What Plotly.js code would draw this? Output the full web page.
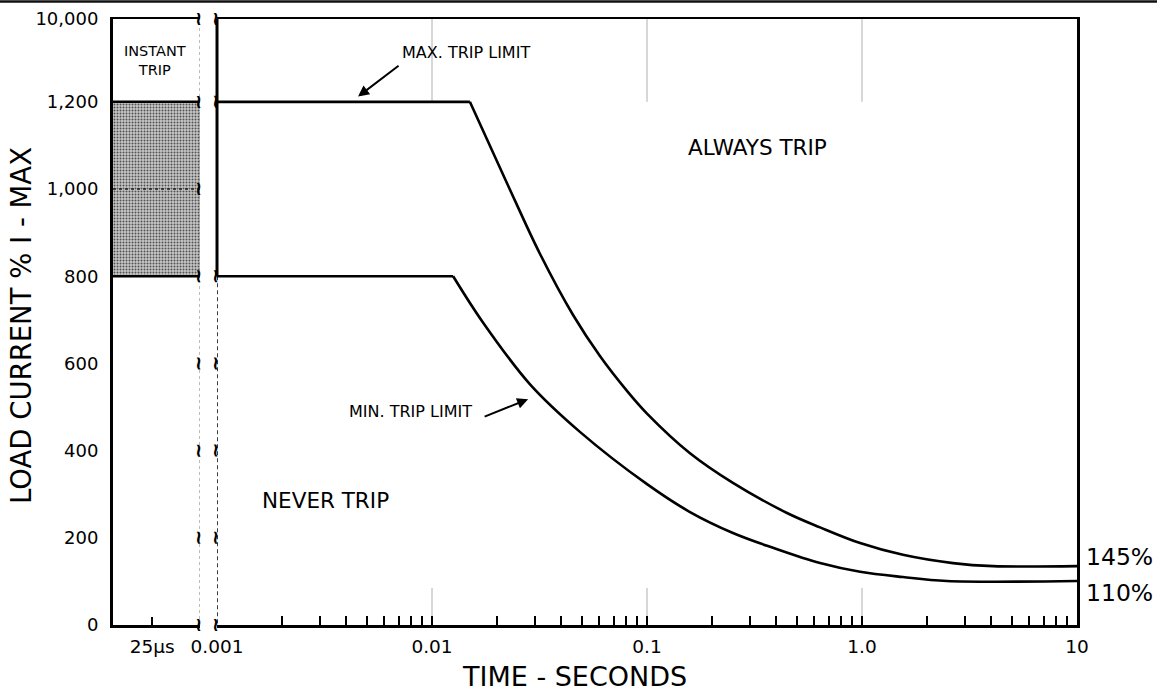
<!DOCTYPE html>
<html>
<head>
<meta charset="utf-8">
<script src="https://cdn.plot.ly/plotly-3.0.1.min.js"></script>
<style>html,body{margin:0;padding:0;background:#fff;}#chart{width:1157px;height:694px;}</style>
</head>
<body>
<div id="chart"></div>
<script>
// ---- data ----
const yTickValues = [0, 200, 400, 600, 800, 1000, 1200, 10000];
const yTickText   = ['0', '200', '400', '600', '800', '1,000', '1,200', '10,000'];

const xDecades     = [0.001, 0.01, 0.1, 1, 10];
const xDecadeText  = ['0.001', '0.01', '0.1', '1.0', '10'];
const minorMult    = [2, 3, 4, 5, 6, 7, 8, 9];

const instantLabel = ['25µs'];

// Instant-trip band (left panel)
const instantLow  = 800;
const instantMid  = 1000;
const instantHigh = 1200;

// Max trip limit curve (seconds, % I-max)
const maxT = [0.001, 0.015, 0.0223, 0.0318, 0.0453, 0.0604, 0.0807, 0.1, 0.1585, 0.251, 0.448, 0.638, 0.98, 1.55, 2.65, 4.07, 10];
const maxI = [1200, 1200, 1014, 851, 711, 617, 537, 485, 394, 326, 257, 224, 188, 161, 142, 135, 135];

// Min trip limit curve
const minT = [0.001, 0.01254, 0.01726, 0.02857, 0.04875, 0.1, 0.1585, 0.251, 0.3855, 0.638, 0.98, 1.55, 2.48, 10];
const minI = [800, 800, 694, 552, 443, 323, 259, 211, 177, 142, 122, 110, 101, 101];

// ---- broken y scale: everything above 1,200 is drawn at the break row ----
const BREAK_ROW = 1390;
function yPos(v) { return v <= 1200 ? v : BREAK_ROW; }
const yTickPos = yTickValues.map(yPos);
const yTop = yPos(10000);

const X1_DOMAIN = [0, 0.0902];
const X2_DOMAIN = [0.1079, 1];

// x ticks for the log panel
const xTickVals = [];
const xTickText = [];
xDecades.forEach((d, i) => {
  xTickVals.push(d); xTickText.push(xDecadeText[i]);
  if (i < xDecades.length - 1) minorMult.forEach(m => { xTickVals.push(d * m); xTickText.push(''); });
});

const FONT = 'DejaVu Sans, Liberation Sans, Arial, sans-serif';
const BLACK = '#000';

const traces = [];

// left panel: shaded instant-trip band
traces.push({
  x: [0, 1, 1, 0, 0], y: [instantLow, instantLow, instantHigh, instantHigh, instantLow],
  xaxis: 'x', yaxis: 'y', mode: 'lines', fill: 'toself',
  fillcolor: 'rgb(185,185,185)',
  fillpattern: {shape: '.', bgcolor: 'rgb(200,200,200)', fgcolor: 'rgb(80,80,80)', size: 3, solidity: 0.35},
  line: {width: 0}, hoverinfo: 'skip', showlegend: false
});
// left panel: band edges
traces.push({
  x: [0, 1, null, 0, 1], y: [instantHigh, instantHigh, null, instantLow, instantLow],
  xaxis: 'x', yaxis: 'y', mode: 'lines', line: {color: BLACK, width: 2.5}, hoverinfo: 'skip', showlegend: false
});
traces.push({
  x: [0, 1], y: [instantMid, instantMid],
  xaxis: 'x', yaxis: 'y', mode: 'lines', line: {color: '#222', width: 1.5, dash: 'dot'}, hoverinfo: 'skip', showlegend: false
});
// left panel right edge (dotted break line)
traces.push({
  x: [1, 1], y: [0, yTop],
  xaxis: 'x', yaxis: 'y', mode: 'lines', line: {color: '#888', width: 1, dash: 'dot'}, hoverinfo: 'skip', showlegend: false
});

// right panel: faint grid fragments at decades
const gx = [], gy = [];
[xDecades[1], xDecades[2], xDecades[3]].forEach(d => {
  gx.push(d, d, null, d, d, null);
  gy.push(instantHigh, yTop, null, 0, 85, null);
});
traces.push({
  x: gx, y: gy, xaxis: 'x2', yaxis: 'y2', mode: 'lines',
  line: {color: '#b0b0b0', width: 1}, hoverinfo: 'skip', showlegend: false
});

// right panel: dashed boundary at 0.001 below 800
traces.push({
  x: [xDecades[0], xDecades[0]], y: [instantLow, 0],
  xaxis: 'x2', yaxis: 'y2', mode: 'lines', line: {color: BLACK, width: 1.5, dash: '4px,3px'}, hoverinfo: 'skip', showlegend: false
});

// trip limit curves: flat plateau + smooth decay
function addCurve(T, I, name) {
  traces.push({
    x: T.slice(0, 2), y: I.slice(0, 2), xaxis: 'x2', yaxis: 'y2', mode: 'lines', name: name,
    line: {color: BLACK, width: 2.6}, showlegend: false
  });
  traces.push({
    x: T.slice(1), y: I.slice(1), xaxis: 'x2', yaxis: 'y2', mode: 'lines', name: name,
    line: {color: BLACK, width: 2.6, shape: 'spline', smoothing: 1}, showlegend: false
  });
}
addCurve(maxT, maxI, 'MAX. TRIP LIMIT');
addCurve(minT, minI, 'MIN. TRIP LIMIT');

// ---- annotations ----
const ann = [];
function txt(x, y, text, size, extra) {
  return Object.assign({xref: 'paper', yref: 'paper', x: x, y: y, text: text, showarrow: false,
    font: {family: FONT, size: size, color: BLACK}, xanchor: 'center', yanchor: 'middle'}, extra || {});
}
ann.push(txt(0.669, 0.788, 'ALWAYS TRIP', 21.5));
ann.push(txt(0.220, 0.205, 'NEVER TRIP', 21.5));
ann.push(txt(0.366, 0.9455, 'MAX. TRIP LIMIT', 16));
ann.push(txt(0.309, 0.3515, 'MIN. TRIP LIMIT', 16));
ann.push(txt(1.0446, 0.1122, '145%', 23.5));
ann.push(txt(1.0446, 0.0528, '110%', 23.5));
ann.push(txt(0.479, -0.1135, 'TIME - SECONDS', 27, {yanchor: 'bottom'}));
ann.push(txt(-0.0954, 0.4934, 'LOAD CURRENT % I - MAX', 27.5, {textangle: -90}));
ann.push({xref: 'x', yref: 'y', x: 0.48, y: 1294, text: 'INSTANT<br>TRIP', showarrow: false,
  font: {family: FONT, size: 14.5, color: BLACK}, align: 'center'});

// arrows
ann.push({xref: 'x2', yref: 'y2', x: -2.344, y: 1212, ax: 42, ay: -32, text: '', showarrow: true,
  arrowhead: 2, arrowsize: 1.1, arrowwidth: 2, arrowcolor: BLACK});
ann.push({xref: 'x2', yref: 'y2', x: -1.553, y: 518, ax: -45, ay: 18, text: '', showarrow: true,
  arrowhead: 2, arrowsize: 1.1, arrowwidth: 2, arrowcolor: BLACK});

// break marks
function brk(xref, x, y) {
  return {xref: xref, yref: 'y', x: x, y: y, text: '<b>~</b>', showarrow: false, textangle: 90,
    font: {family: 'DejaVu Sans', size: 19, color: BLACK}, xanchor: 'center', yanchor: 'middle'};
}
yTickPos.forEach(p => {
  ann.push(brk('x', 1, p));
  if (p !== instantMid) ann.push(brk('x2', Math.log10(xDecades[0]), p));
});

const layout = {
  width: 1157, height: 694,
  margin: {l: 113, r: 80, t: 19, b: 69},
  paper_bgcolor: '#fff', plot_bgcolor: '#fff',
  font: {family: FONT, color: BLACK},
  showlegend: false,
  xaxis: {
    domain: X1_DOMAIN, range: [0, 1], type: 'linear',
    showline: true, linecolor: BLACK, linewidth: 2.5, mirror: true,
    showgrid: false, zeroline: false,
    tickmode: 'array', tickvals: [0.45], ticktext: instantLabel,
    ticks: 'inside', ticklen: 8, tickwidth: 2, tickcolor: BLACK,
    tickfont: {family: FONT, size: 18.5, color: BLACK}, ticklabelstandoff: 3,
    fixedrange: true
  },
  xaxis2: {
    domain: X2_DOMAIN, type: 'log', range: [-3, 1], anchor: 'y2',
    showline: true, linecolor: BLACK, linewidth: 2.5, mirror: true,
    showgrid: false, zeroline: false,
    tickmode: 'array', tickvals: xTickVals, ticktext: xTickText,
    ticks: 'inside', ticklen: 9, tickwidth: 2, tickcolor: BLACK,
    tickfont: {family: FONT, size: 18.5, color: BLACK}, ticklabelstandoff: 3,
    fixedrange: true
  },
  yaxis: {
    range: [0, yTop], anchor: 'x',
    showline: true, linecolor: BLACK, linewidth: 3,
    showgrid: false, zeroline: false,
    tickmode: 'array', tickvals: yTickPos, ticktext: yTickText,
    ticks: '', tickfont: {family: FONT, size: 18, color: BLACK}, ticklabelstandoff: 8,
    fixedrange: true
  },
  yaxis2: {
    range: [0, yTop], anchor: 'x2', overlaying: 'y', side: 'right',
    showline: true, linecolor: BLACK, linewidth: 3,
    showgrid: false, zeroline: false, showticklabels: false, ticks: '',
    fixedrange: true
  },
  annotations: ann,
  shapes: [
    // solid boundary of the log panel at 0.001, from the break row down to 800
    {type: 'line', xref: 'paper', yref: 'y2', x0: X2_DOMAIN[0], x1: X2_DOMAIN[0], y0: instantLow, y1: yTop,
     line: {color: BLACK, width: 3}},
    // dark scan edge across the top
    {type: 'line', xref: 'paper', yref: 'paper', x0: -0.2, x1: 1.2, y0: 1.0289, y1: 1.0289,
     line: {color: '#111', width: 2.5}}
  ]
};

Plotly.newPlot('chart', traces, layout, {staticPlot: true, displayModeBar: false});
</script>
</body>
</html>
